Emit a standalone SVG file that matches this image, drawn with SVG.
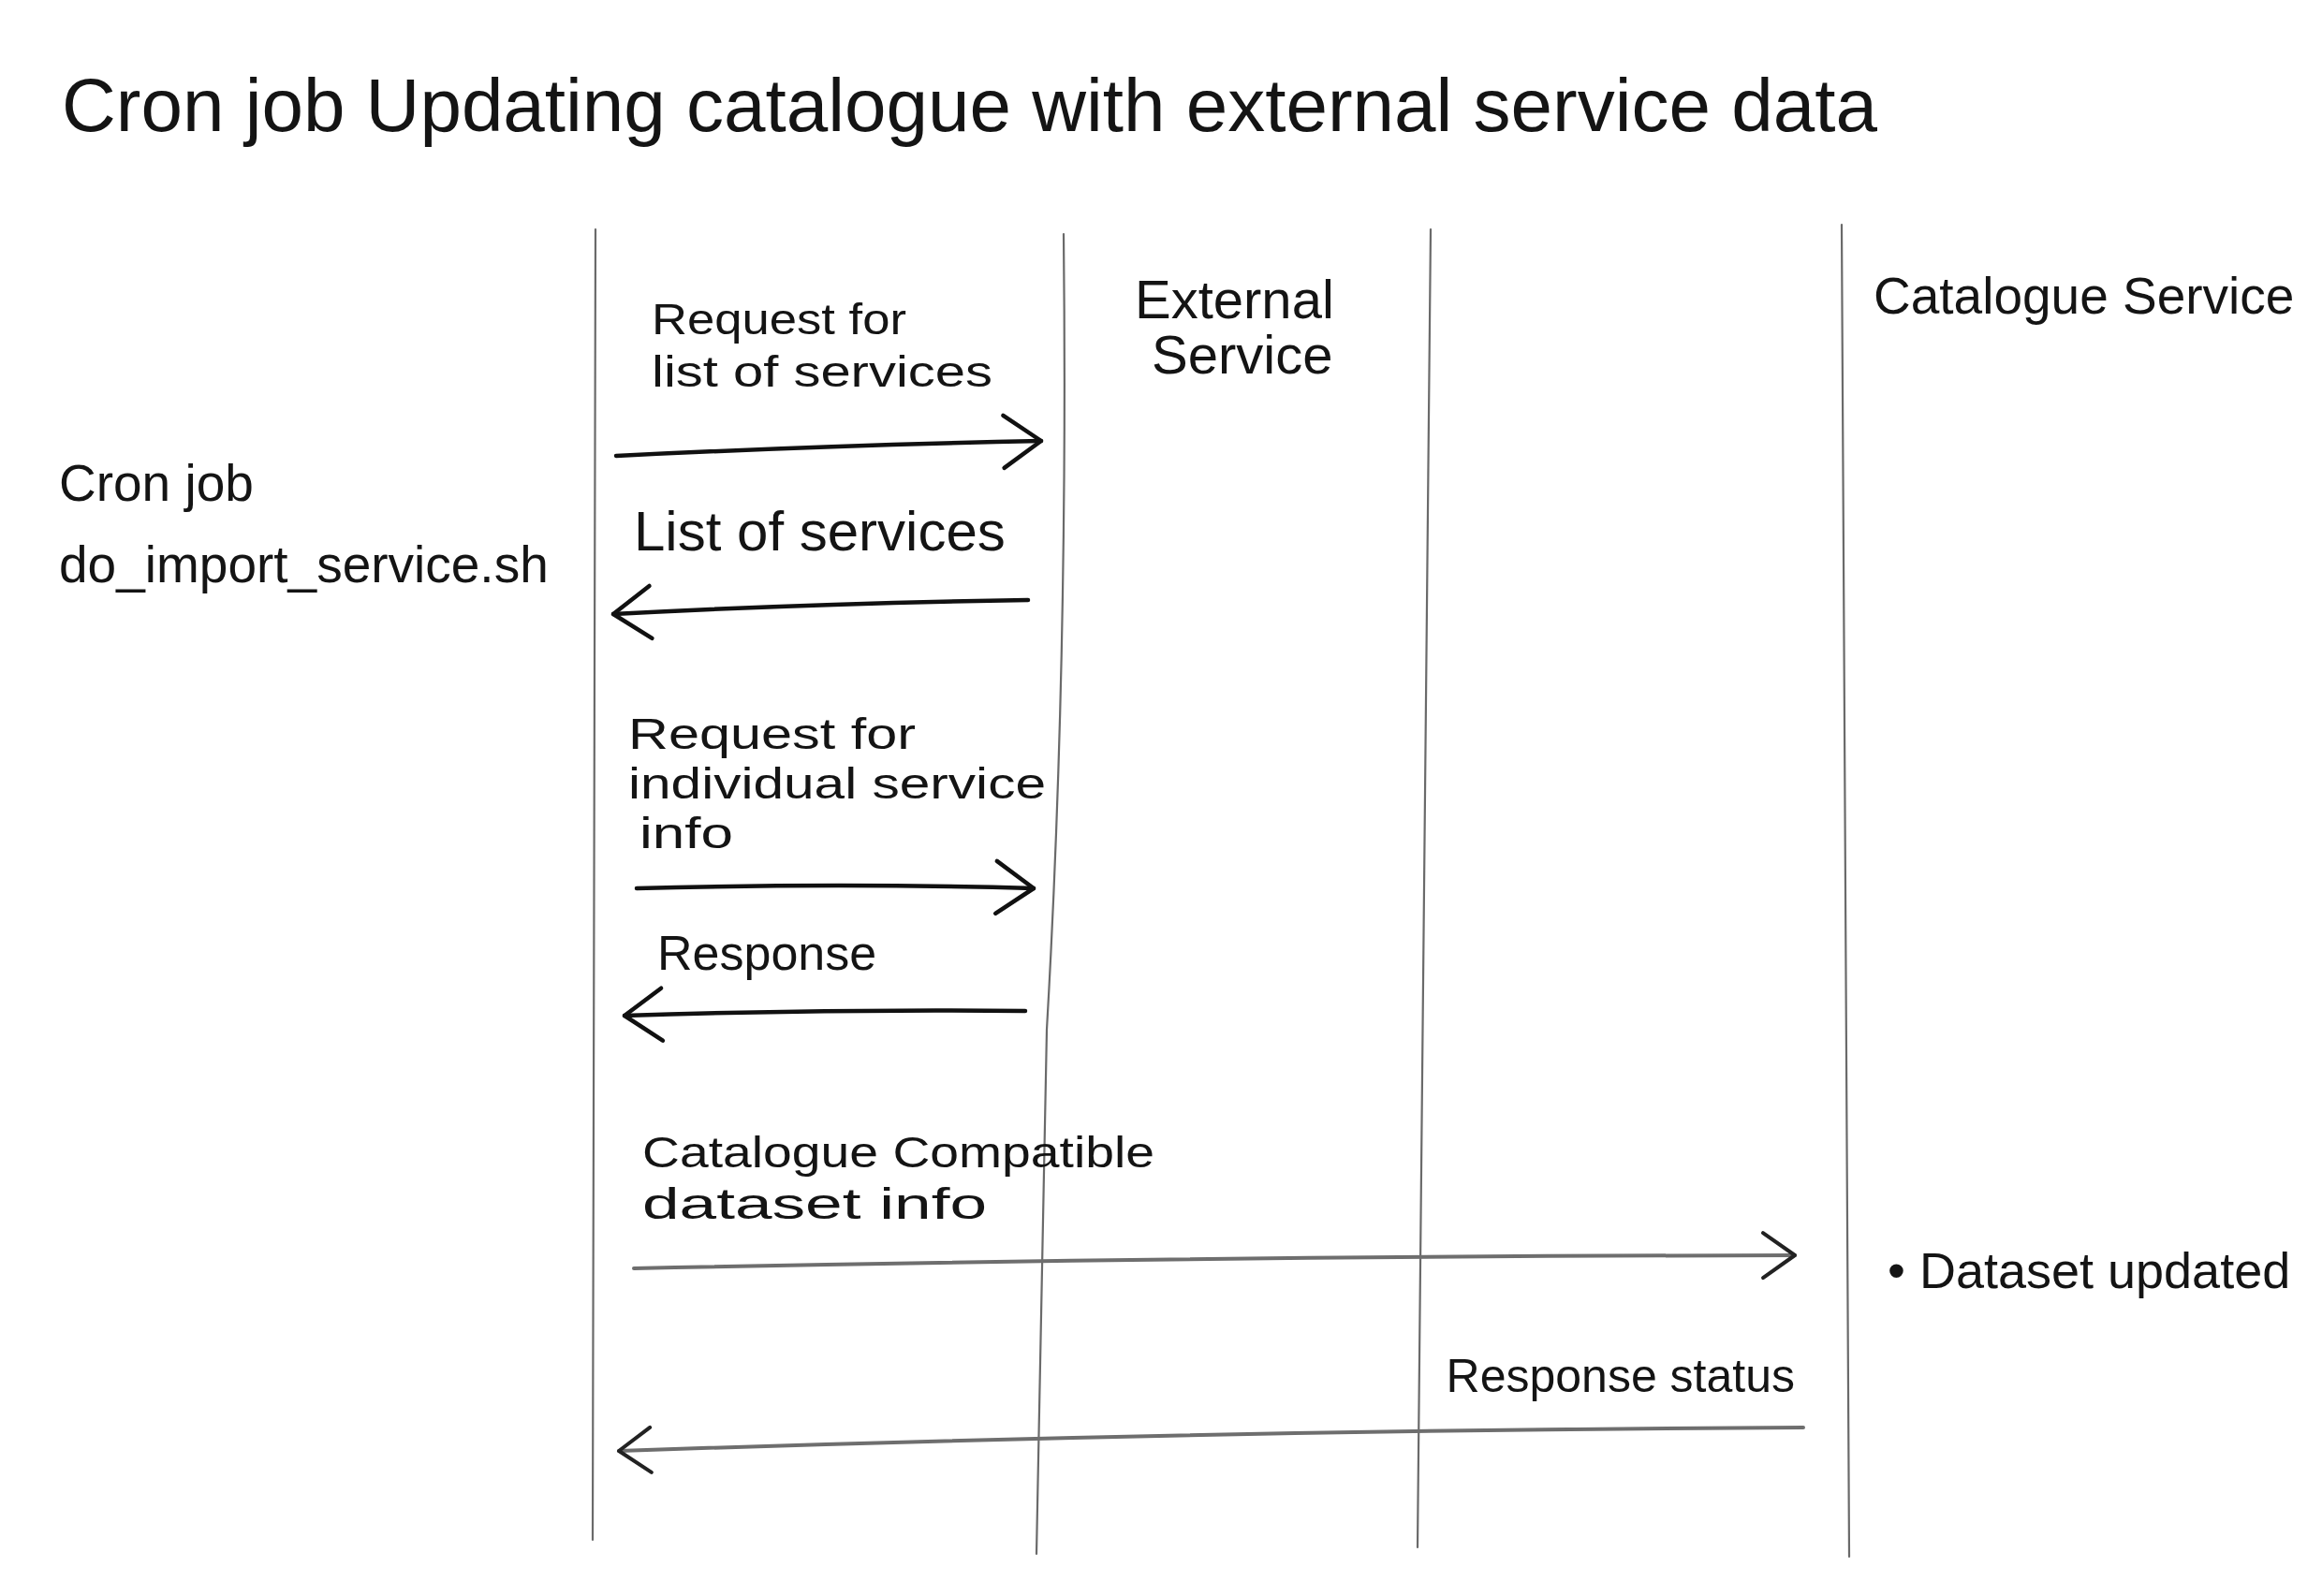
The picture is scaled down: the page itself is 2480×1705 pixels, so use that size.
<svg xmlns="http://www.w3.org/2000/svg" width="2480" height="1705" viewBox="0 0 2480 1705">
  <style>
    .t { font-family: "Liberation Sans", Arial, sans-serif; fill: #141414; }
    .life { fill: none; stroke: #6a6a6a; stroke-width: 2.2; stroke-linecap: round; }
    .ink { fill: none; stroke: #111; stroke-width: 4.5; stroke-linecap: round; stroke-linejoin: round; }
    .pencil { fill: none; stroke: #6e6e6e; stroke-width: 4; stroke-linecap: round; stroke-linejoin: round; }
  </style>
  <defs>
    <marker id="headInk" viewBox="-46 -34 52 68" markerWidth="52" markerHeight="68" refX="0" refY="0" orient="auto" markerUnits="userSpaceOnUse">
      <path d="M-40,-28 L0,0 L-40,28" fill="none" stroke="#111" stroke-width="4.5" stroke-linecap="round" stroke-linejoin="round"/>
    </marker>
    <marker id="headPencil" viewBox="-46 -34 52 68" markerWidth="52" markerHeight="68" refX="0" refY="0" orient="auto" markerUnits="userSpaceOnUse">
      <path d="M-34,-24 L0,0 L-34,24" fill="none" stroke="#222" stroke-width="4" stroke-linecap="round" stroke-linejoin="round"/>
    </marker>
  </defs>
  <rect width="2480" height="1705" fill="#ffffff"/>

  <g id="title">
    <text class="t" x="66" y="140" font-size="80">Cron job Updating catalogue with external service data</text>
  </g>

  <g id="lifelines">
    <path class="life" d="M636,245 L633,1645"/>
    <path class="life" d="M1136,250 Q1141,700 1118,1100 L1107,1660"/>
    <path class="life" d="M1528,245 L1514,1653"/>
    <path class="life" d="M1967,240 L1975,1663"/>
  </g>

  <g id="node-cron-job">
    <text class="t" x="63" y="535" font-size="55">Cron job</text>
    <text class="t" x="63" y="622" font-size="55">do_import_service.sh</text>
  </g>

  <g id="node-external-service">
    <text class="t" x="1212" y="340" font-size="58">External</text>
    <text class="t" x="1230" y="399" font-size="58">Service</text>
  </g>

  <g id="node-catalogue-service">
    <text class="t" x="2001" y="335" font-size="55">Catalogue Service</text>
  </g>

  <g id="note-dataset-updated">
    <text class="t" x="2016" y="1376" font-size="54">• Dataset updated</text>
  </g>

  <g id="connectors">
    <path class="ink" d="M658,487 Q880,476 1112,471" marker-end="url(#headInk)"/>
    <text class="t" x="696" y="357" font-size="47" textLength="272" lengthAdjust="spacingAndGlyphs">Request for</text>
    <text class="t" x="696" y="413" font-size="47" textLength="364" lengthAdjust="spacingAndGlyphs">list of services</text>

    <path class="ink" d="M1098,641 Q880,644 655,656" marker-end="url(#headInk)"/>
    <text class="t" x="677" y="588" font-size="60">List of services</text>

    <path class="ink" d="M680,949 Q900,943 1104,949" marker-end="url(#headInk)"/>
    <text class="t" x="671" y="800" font-size="46" textLength="307" lengthAdjust="spacingAndGlyphs">Request for</text>
    <text class="t" x="671" y="853" font-size="46" textLength="446" lengthAdjust="spacingAndGlyphs">individual service</text>
    <text class="t" x="683" y="906" font-size="46" textLength="100" lengthAdjust="spacingAndGlyphs">info</text>

    <path class="ink" d="M1095,1080 Q880,1078 667,1085" marker-end="url(#headInk)"/>
    <text class="t" x="702" y="1036" font-size="52">Response</text>

    <path class="pencil" d="M677,1355 Q1300,1342 1917,1341" marker-end="url(#headPencil)"/>
    <text class="t" x="686" y="1247" font-size="47" textLength="547" lengthAdjust="spacingAndGlyphs">Catalogue Compatible</text>
    <text class="t" x="686" y="1302" font-size="47" textLength="368" lengthAdjust="spacingAndGlyphs">dataset info</text>

    <path class="pencil" d="M1926,1525 Q1300,1528 661,1550" marker-end="url(#headPencil)"/>
    <text class="t" x="1917" y="1487" font-size="50" text-anchor="end">Response status</text>
  </g>
</svg>
